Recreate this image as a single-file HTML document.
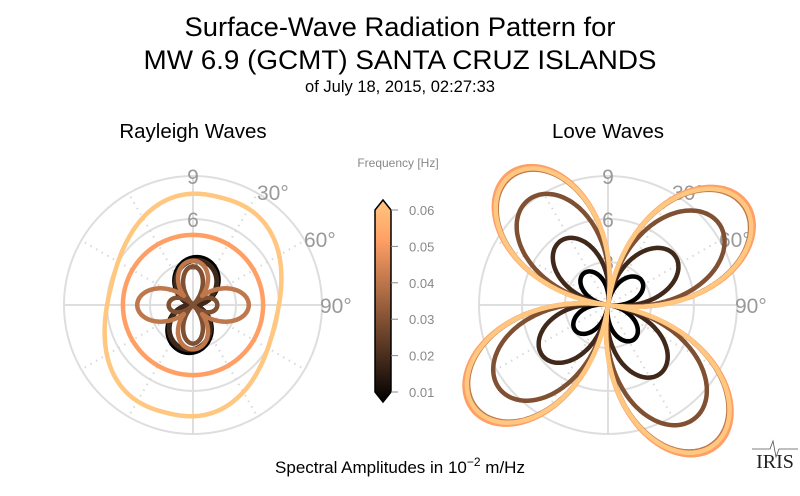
<!DOCTYPE html>
<html><head><meta charset="utf-8"><style>
html,body{margin:0;padding:0;background:#fff;}
svg{display:block;font-family:"Liberation Sans",sans-serif;}
</style></head><body>
<svg id="s" width="800" height="496" viewBox="0 0 800 496" xmlns="http://www.w3.org/2000/svg">
<defs>
<linearGradient id="cm" x1="0" y1="1" x2="0" y2="0">
<stop offset="0" stop-color="#000"/>
<stop offset="0.8" stop-color="#ff9f65"/>
<stop offset="1" stop-color="#ffc77f"/>
</linearGradient>
</defs>
<text x="400" y="36" font-size="27" text-anchor="middle" textLength="431" lengthAdjust="spacingAndGlyphs">Surface-Wave Radiation Pattern for</text>
<text x="400" y="69" font-size="27" text-anchor="middle" textLength="513" lengthAdjust="spacingAndGlyphs">MW 6.9 (GCMT) SANTA CRUZ ISLANDS</text>
<text x="400" y="92" font-size="16.5" text-anchor="middle">of July 18, 2015, 02:27:33</text>
<text x="193" y="138" font-size="20.5" text-anchor="middle">Rayleigh Waves</text>
<text x="608" y="138" font-size="20.5" text-anchor="middle">Love Waves</text>
<text x="398" y="167" font-size="12" fill="#888" text-anchor="middle">Frequency [Hz]</text>
<text x="400" y="473" font-size="17" text-anchor="middle">Spectral Amplitudes in 10<tspan dy="-7" font-size="12">−2</tspan><tspan dy="7"> m/Hz</tspan></text>
<g id="bar">
<path d="M375,210 L383,200 L391,210 L391,392 L383,402 L375,392 Z" fill="url(#cm)" stroke="#000" stroke-width="1.5"/>
</g>
<g id="ticks" font-size="13" fill="#888"></g>
<g id="plots"></g>
<text x="775" y="468" font-size="20" font-family="Liberation Serif,serif" text-anchor="middle" fill="#222">IRIS</text>
<path d="M752,449 L770,449 L773,441 L776,457 L779,449 L798,449" stroke="#555" stroke-width="0.8" fill="none"/>
</svg>
<script>
var NS="http://www.w3.org/2000/svg";
function el(p,t,a,txt){var e=document.createElementNS(NS,t);for(var k in a)e.setAttribute(k,a[k]);if(txt!=null)e.textContent=txt;p.appendChild(e);return e;}
var tk=document.getElementById('ticks');
for(var i=0;i<6;i++){var y=392-i*36.4;el(tk,'line',{x1:391,y1:y,x2:398,y2:y,stroke:'#888','stroke-width':1});
el(tk,'text',{x:409,y:y+5},(0.01*(i+1)).toFixed(2));}
var P=document.getElementById('plots');
var S=14.3,D=Math.PI/180;
var cols=['#000000','#40281a','#805033','#bf784c','#ff9f65','#ffc77f'];
function grid(cx,cy){
 [43,86,129].forEach(function(r){el(P,'circle',{cx:cx,cy:cy,r:r,fill:'none',stroke:'#dedede','stroke-width':2});});
 for(var a=0;a<360;a+=30){var solid=a%90==0;
  el(P,'line',{x1:cx,y1:cy,x2:cx+129*Math.sin(a*D),y2:cy-129*Math.cos(a*D),stroke:solid?'#dedede':'#d8d8d8','stroke-width':2,'stroke-dasharray':solid?'none':'1.5,5'});}
 var g=el(P,'g',{'font-size':21,fill:'#999'});
 el(g,'text',{x:cx,y:cy-121,'text-anchor':'middle'},'9');
 el(g,'text',{x:cx,y:cy-78,'text-anchor':'middle'},'6');
 el(g,'text',{x:cx,y:cy-35,'text-anchor':'middle'},'3');
 el(g,'text',{x:cx+64,y:cy-105},'30°');
 el(g,'text',{x:cx+111,y:cy-58},'60°');
 el(g,'text',{x:cx+127,y:cy+8},'90°');
}
function curve(cx,cy,f,col,w){
 var d='';for(var t=0;t<=720;t++){var th=t/2*D;var r=f(th)*S;
  d+=(t?'L':'M')+(cx+r*Math.sin(th)).toFixed(1)+','+(cy-r*Math.cos(th)).toFixed(1);}
 el(P,'path',{d:d+'Z',fill:'none',stroke:col,'stroke-width':w,'stroke-linejoin':'round'});
}
function pcurve(pts,col,w){var d='';pts.forEach(function(p,i){d+=(i?'L':'M')+p[0].toFixed(1)+','+p[1].toFixed(1);});
 el(P,'path',{d:d+'Z',fill:'none',stroke:col,'stroke-width':w,'stroke-linejoin':'round'});}
grid(193,305);grid(608,305);
// Rayleigh
var R=[
 function(t){return 3.35*Math.pow(Math.abs(Math.cos(t-8*D)),1.3);},
 function(t){return 3.15*Math.pow(Math.abs(Math.cos(t-8*D)),1.3);},
 function(t){var c=Math.cos(t);return Math.abs(Math.cos(2*t))*(1.7+1.0*c*c);},
 function(t){var s=Math.sin(t);return 0.9+Math.abs(Math.cos(2*t))*(2.2+0.8*s*s);},
 function(t){return 4.9;}
];
for(var i=0;i<5;i++)curve(193,305,R[i],cols[i],i<2?5:4.5);
(function(){var pts=[],rot=14*D,n=2.4;
 for(var k=0;k<=720;k++){var p=k/2*D;var c=Math.cos(p),s=Math.sin(p);
  var x=84*Math.sign(c)*Math.pow(Math.abs(c),2/n), y=111*Math.sign(s)*Math.pow(Math.abs(s),2/n);
  var X=x*Math.cos(rot)-y*Math.sin(rot), Y=x*Math.sin(rot)+y*Math.cos(rot);
  pts.push([193+X,305+Y]);}
 pcurve(pts,cols[5],4.5);})();
// Love
var A=[2.9,5.8,9.6,11.7,12.0,11.8];
for(var i=0;i<6;i++){(function(a){
 curve(608,305,function(t){return a*Math.pow(Math.abs(Math.cos(2*(t-53*D))),0.95)*(1+0.04*Math.cos(t-140*D));},cols[i],4.5);})(A[i]);}
</script>
</body></html>
